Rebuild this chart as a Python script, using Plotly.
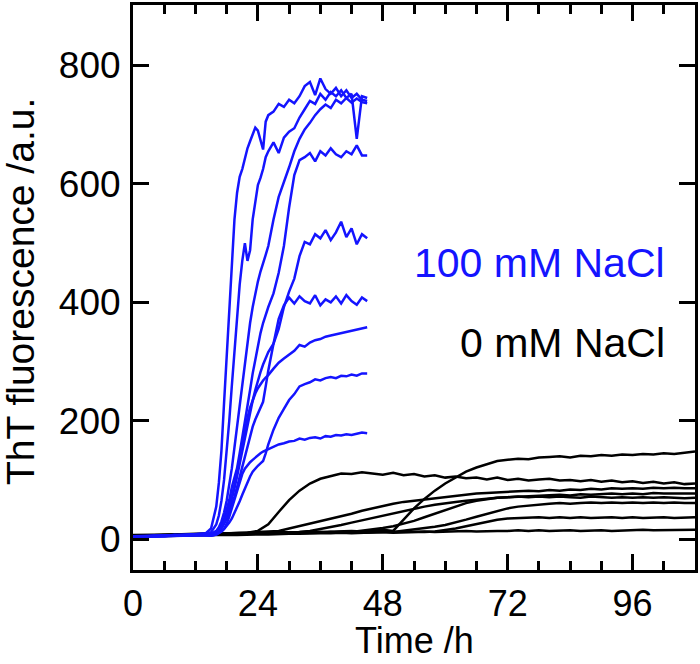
import plotly.graph_objects as go

# ---------------- data ----------------
# 100 mM NaCl (blue) time axis, hours
t_blue = [0, 2, 4, 6, 8, 10, 12, 14, 15, 16, 16.5, 17, 17.5, 18, 18.5, 19, 19.5, 20,
          20.5, 21, 21.5, 22, 22.5, 23, 23.5, 24, 24.5, 25, 25.5, 26, 27, 28, 29, 30,
          31, 32, 33, 34, 35, 36, 37, 38, 39, 40, 41, 42, 43, 44, 45]

blue_a = [4, 5, 6, 6, 7, 7, 8, 10, 18, 55, 95, 150, 230, 310, 390, 480, 540, 585,
          612, 625, 645, 660, 672, 685, 695, 690, 672, 658, 705, 716, 722, 735, 730, 742,
          736, 748, 765, 772, 750, 778, 760, 752, 762, 748, 758, 745, 752, 742, 740]
blue_b = [3, 4, 5, 6, 6, 7, 8, 9, 12, 25, 40, 65, 100, 145, 200, 260, 320, 380,
          430, 470, 500, 470, 488, 540, 570, 598, 610, 625, 645, 655, 670, 652, 678, 688,
          694, 712, 726, 740, 735, 752, 742, 755, 748, 758, 745, 752, 676, 748, 745]
blue_c = [5, 4, 6, 5, 7, 6, 8, 8, 9, 14, 20, 30, 45, 65, 90, 120, 155, 190,
          225, 262, 300, 335, 365, 392, 415, 435, 452, 468, 480, 495, 540, 578, 602, 628,
          655, 676, 692, 703, 716, 726, 734, 728, 742, 736, 745, 737, 744, 738, 736]
blue_d = [4, 5, 5, 6, 6, 7, 7, 8, 8, 12, 17, 24, 34, 48, 66, 88, 104, 120,
          145, 170, 198, 225, 252, 280, 305, 330, 348, 365, 380, 392, 415, 450, 495, 560,
          615, 640, 645, 652, 638, 655, 648, 660, 650, 645, 655, 650, 665, 648, 648]
blue_e = [5, 5, 6, 6, 7, 7, 8, 8, 8, 11, 15, 20, 28, 38, 52, 68, 86, 106,
          128, 150, 172, 194, 214, 234, 252, 268, 282, 295, 306, 316, 330, 355, 392, 418,
          440, 478, 502, 498, 515, 508, 522, 505, 518, 536, 510, 525, 498, 515, 508]
blue_f = [4, 5, 5, 6, 6, 6, 7, 7, 7, 10, 13, 18, 25, 34, 45, 58, 72, 88,
          105, 122, 140, 158, 175, 190, 202, 212, 222, 232, 258, 285, 330, 372, 395, 408,
          398, 410, 402, 398, 412, 395, 405, 400, 410, 398, 412, 402, 396, 408, 402]
blue_g = [5, 5, 6, 6, 6, 7, 7, 7, 7, 10, 14, 20, 28, 40, 55, 72, 92, 114,
          138, 162, 185, 205, 222, 236, 246, 255, 262, 268, 273, 277, 288, 298, 305, 312,
          318, 328, 325, 332, 336, 338, 342, 344, 346, 348, 350, 352, 354, 356, 358]
blue_h = [4, 5, 5, 5, 6, 6, 7, 7, 6, 8, 10, 13, 17, 22, 28, 35, 44, 54,
          64, 75, 86, 96, 106, 114, 120, 124, 128, 132, 145, 160, 185, 205, 220, 235,
          245, 258, 262, 265, 270, 268, 272, 274, 272, 276, 275, 278, 276, 280, 280]
blue_i = [5, 5, 5, 6, 6, 6, 7, 7, 6, 8, 10, 13, 18, 26, 38, 52, 68, 84,
          98, 110, 119, 125, 130, 134, 138, 142, 145, 148, 150, 153, 156, 160, 162, 165,
          166, 170, 168, 171, 172, 170, 174, 173, 176, 175, 177, 176, 178, 180, 179]

# 0 mM NaCl (black) time axis, hours
t_black = [0, 4, 8, 12, 16, 20, 22, 24, 26, 28, 30, 32, 34, 36, 38, 40, 42, 44, 46, 48,
           50, 52, 54, 56, 58, 60, 62, 64, 66, 68, 70, 72, 74, 76, 78, 80, 82, 84, 86, 88,
           90, 92, 94, 96, 98, 100, 102, 104, 106, 108]

black_1 = [5, 6, 7, 8, 9, 10, 11, 14, 25, 46, 66, 82, 94, 102, 107, 111, 110, 113, 111, 109,
           112, 108, 110, 106, 108, 104, 106, 103, 104, 101, 104, 100, 102, 99, 101, 102, 99, 100, 98, 100,
           97, 99, 96, 98, 95, 97, 94, 96, 93, 94]
black_2 = [6, 7, 8, 8, 9, 10, 10, 11, 11, 12, 11, 12, 13, 12, 13, 13, 14, 13, 14, 16,
           14, 33, 52, 68, 82, 94, 104, 114, 121, 127, 132, 134, 136, 135, 138, 139, 140, 138, 141, 140,
           142, 141, 143, 142, 144, 143, 145, 144, 146, 148]
black_3 = [6, 6, 7, 8, 9, 10, 11, 12, 13, 14, 18, 22, 26, 30, 34, 38, 43, 48, 52, 57,
           60, 63, 65, 68, 70, 72, 74, 75, 77, 78, 79, 80, 80, 82, 81, 83, 82, 84, 83, 85,
           84, 86, 85, 86, 85, 87, 86, 87, 86, 86]
black_4 = [7, 7, 8, 9, 9, 10, 10, 11, 11, 11, 12, 12, 14, 17, 20, 24, 28, 32, 36, 40,
           44, 48, 52, 55, 58, 61, 63, 65, 67, 69, 70, 71, 72, 73, 73, 74, 75, 74, 76, 75,
           76, 77, 76, 77, 76, 78, 77, 77, 78, 77]
black_5 = [6, 7, 7, 8, 9, 9, 10, 10, 11, 10, 11, 11, 12, 11, 12, 12, 12, 14, 16, 19,
           22, 26, 31, 37, 43, 50, 56, 61, 65, 68, 70, 71, 72, 71, 72, 71, 72, 71, 70, 72,
           71, 70, 71, 70, 71, 70, 71, 70, 69, 70]
black_6 = [5, 6, 7, 7, 8, 9, 9, 10, 10, 11, 10, 11, 11, 12, 11, 12, 12, 11, 12, 12,
           12, 14, 16, 18, 21, 24, 28, 33, 38, 43, 48, 52, 55, 57, 59, 60, 61, 60, 61, 62,
           61, 62, 61, 62, 61, 62, 61, 62, 61, 61]
black_7 = [6, 6, 7, 8, 8, 9, 9, 10, 10, 10, 11, 10, 11, 11, 12, 11, 12, 12, 11, 12,
           12, 11, 12, 12, 13, 15, 18, 22, 26, 30, 33, 35, 36, 36, 37, 36, 37, 36, 37, 36,
           37, 37, 36, 37, 36, 37, 37, 36, 37, 37]
black_8 = [4, 5, 6, 6, 7, 7, 8, 8, 8, 9, 9, 9, 10, 10, 10, 11, 10, 11, 11, 12,
           11, 12, 12, 13, 12, 13, 13, 14, 13, 14, 14, 14, 15, 14, 15, 14, 15, 15, 14, 15,
           15, 14, 15, 15, 16, 15, 15, 16, 15, 16]

blue_series = [blue_a, blue_b, blue_c, blue_d, blue_e, blue_f, blue_g, blue_h, blue_i]
black_series = [black_1, black_2, black_3, black_4, black_5, black_6, black_7, black_8]

x_ticks = [0, 24, 48, 72, 96]
y_ticks = [0, 200, 400, 600, 800]
label_blue = "100 mM NaCl"
label_black = "0 mM NaCl"
x_title = "Time /h"
y_title = "ThT fluorescence /a.u."

# ---------------- figure ----------------
BLUE = "#1414ff"
FONT = "Arial, Liberation Sans, sans-serif"

fig = go.Figure()
for ys in black_series:
    fig.add_trace(go.Scatter(x=t_black, y=ys, mode="lines",
                             line=dict(color="black", width=2.5),
                             showlegend=False, hoverinfo="skip"))
for ys in blue_series:
    fig.add_trace(go.Scatter(x=t_blue, y=ys, mode="lines",
                             line=dict(color=BLUE, width=2.5),
                             showlegend=False, hoverinfo="skip"))

fig.add_annotation(text=label_blue, xref="paper", yref="paper", x=0.95, y=0.544,
                   xanchor="right", yanchor="middle", showarrow=False,
                   font=dict(family=FONT, size=41, color=BLUE))
fig.add_annotation(text=label_black, xref="paper", yref="paper", x=0.95, y=0.401,
                   xanchor="right", yanchor="middle", showarrow=False,
                   font=dict(family=FONT, size=41, color="black"))
# axis titles placed as annotations for exact positioning
fig.add_annotation(text=x_title, xref="paper", yref="paper", x=0.5, y=-0.1635,
                   xanchor="center", yanchor="bottom", showarrow=False, borderpad=0,
                   font=dict(family=FONT, size=36, color="black"))
fig.add_annotation(text=y_title, xref="paper", yref="paper", x=-0.2, y=0.493,
                   xanchor="center", yanchor="middle", showarrow=False, textangle=-90,
                   font=dict(family=FONT, size=39, color="black"))

fig.update_xaxes(range=[0, 108], tickvals=x_ticks, ticktext=[str(v) for v in x_ticks],
                 ticks="inside", ticklen=16, tickwidth=3, tickcolor="black",
                 minor=dict(dtick=6, tick0=0, ticks="inside", ticklen=9, tickwidth=3,
                            tickcolor="black"),
                 showline=True, linewidth=3, linecolor="black", mirror="ticks",
                 showgrid=False, zeroline=False, ticklabelstandoff=0,
                 tickfont=dict(family=FONT, size=36, color="black"))
fig.update_yaxes(range=[-52, 902], tickvals=y_ticks, ticktext=[str(v) for v in y_ticks],
                 ticks="inside", ticklen=16, tickwidth=3, tickcolor="black",
                 showline=True, linewidth=3, linecolor="black", mirror="ticks",
                 showgrid=False, zeroline=False, ticklabelstandoff=2,
                 tickfont=dict(family=FONT, size=37, color="black"))

fig.update_layout(width=700, height=664, plot_bgcolor="white", paper_bgcolor="white",
                  margin=dict(l=133, r=3, t=2, b=94), showlegend=False)

fig.write_html("out.html", config={"displayModeBar": False},
               post_script="document.body.style.margin='0px';"
                           "document.body.style.padding='0px';"
                           "document.body.style.overflow='hidden';")
